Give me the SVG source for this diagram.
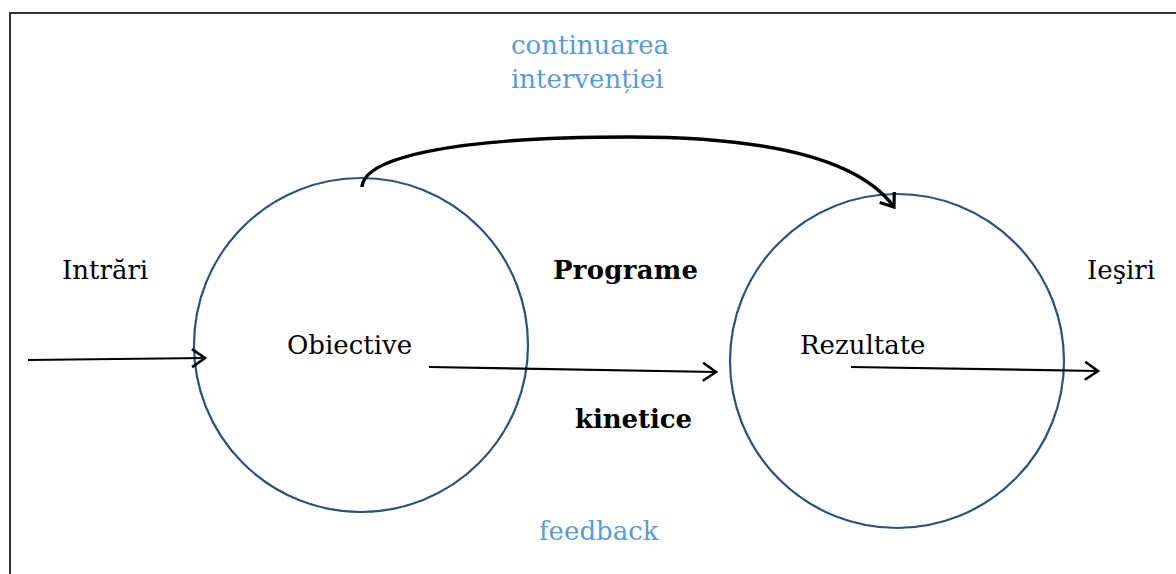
<svg xmlns="http://www.w3.org/2000/svg" width="1176" height="574" viewBox="0 0 1176 574">
<style>
.t{font-family:"DejaVu Serif","Liberation Serif",serif;font-size:26px;fill:#000}
.b{font-weight:bold}
.blue{fill:#5b9bd5}
.c{fill:none;stroke:#2f5275;stroke-width:2.2}
.a{fill:none;stroke:#000;stroke-width:2.2}
</style>
<defs>
<marker id="arr" markerWidth="22" markerHeight="24" refX="17" refY="12" orient="auto" markerUnits="userSpaceOnUse">
<path d="M4,3 L17,12 L4,21" fill="none" stroke="#000" stroke-width="2.6"/>
</marker>
<marker id="arr2" markerWidth="24" markerHeight="24" refX="18" refY="12" orient="auto" markerUnits="userSpaceOnUse">
<path d="M6,3 L18,12 L6,21" fill="none" stroke="#000" stroke-width="3.2"/>
</marker>
</defs>
<rect x="10" y="13" width="1200" height="600" fill="#fff" stroke="#333" stroke-width="2"/>
<g id="obiective">
<circle class="c" cx="361" cy="345" r="167"/>
<text class="t" x="287" y="354">Obiective</text>
</g>
<g id="rezultate">
<circle class="c" cx="897" cy="361" r="167"/>
<text class="t" x="800" y="354">Rezultate</text>
</g>
<g id="labels">
<text class="t" x="62" y="279">Intrări</text>
<text class="t" x="1087" y="279">Ieşiri</text>
<text class="t b" x="553" y="279" textLength="145">Programe</text>
<text class="t b" x="575" y="428" textLength="117">kinetice</text>
<text class="t blue" x="511" y="54">continuarea</text>
<text class="t blue" x="511" y="88">intervenției</text>
<text class="t blue" x="539" y="540">feedback</text>
</g>
<g id="connectors">
<line class="a" x1="28" y1="360" x2="205" y2="358" marker-end="url(#arr)"/>
<line class="a" x1="429" y1="367" x2="716" y2="372" marker-end="url(#arr)"/>
<line class="a" x1="851" y1="367" x2="1098" y2="371" marker-end="url(#arr)"/>
<path d="M362,187 C364,158 450,137 630,137 C770,137 860,160 894,207" fill="none" stroke="#000" stroke-width="3.4" marker-end="url(#arr2)"/>
</g>
</svg>
